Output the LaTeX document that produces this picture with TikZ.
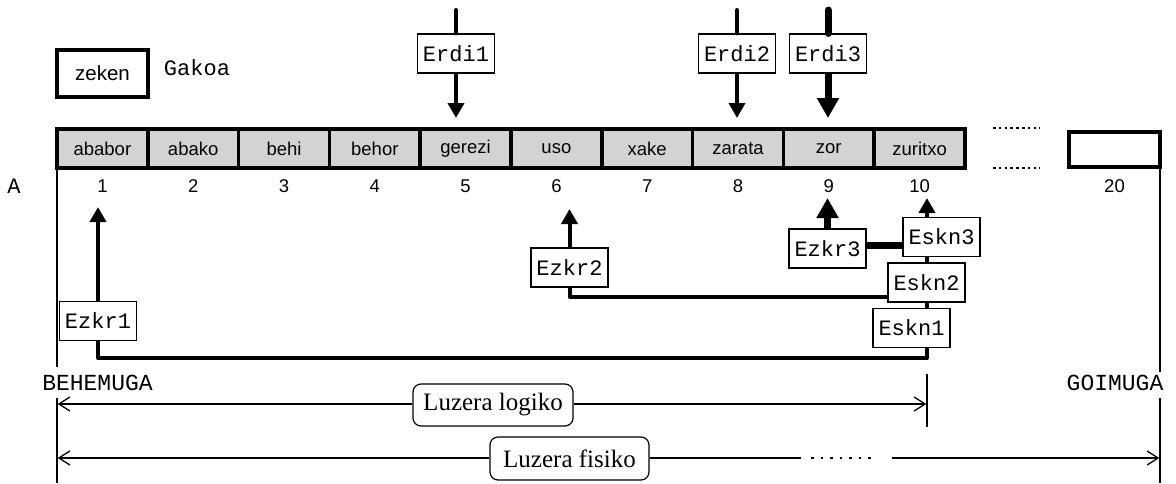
\documentclass[tikz,border=0pt]{standalone}
\usepackage{fontspec}
\setmainfont{Liberation Serif}
\setsansfont{Liberation Sans}
\setmonofont{Liberation Mono}
\usetikzlibrary{arrows.meta}
\definecolor{cellgray}{RGB}{211,211,211}
\tikzset{
  cell/.style={draw, line width=3.5pt, fill=cellgray, minimum width=90.8pt, minimum height=39pt,
    inner sep=0pt, font=\sffamily\fontsize{18.5}{18.5}\selectfont},
  idx/.style={font=\sffamily\fontsize{18.5}{18.5}\selectfont, inner sep=0pt},
  ptr/.style={draw, line width=1.2pt, fill=white, minimum width=77pt, minimum height=39pt,
    inner sep=0pt, font=\ttfamily\fontsize{22}{22}\selectfont},
  mono/.style={font=\ttfamily\fontsize{23}{23}\selectfont, inner sep=0pt},
  shaft/.style={line width=4pt, line cap=round},
  fatshaft/.style={line width=7pt, line cap=round},
  tipA/.style={-{Triangle[length=15pt,width=16pt]}},
  tipB/.style={-{Triangle[length=20pt,width=21pt]}},
  link/.style={line width=4pt},
  lenbox/.style={draw, line width=1.2pt, rounded corners=8pt, fill=white, inner sep=0pt,
    font=\fontsize{25}{25}\selectfont},
  dim/.style={line width=1.3pt},
  dimtip/.style={-{Straight Barb[length=11pt,width=14pt,line width=1.3pt]}},
}
\begin{document}
\begin{tikzpicture}[x=1pt,y=-1pt]
\useasboundingbox (0,0) rectangle (1176,483);

% key box and its caption
\node[draw, line width=4pt, minimum width=91pt, minimum height=47pt, inner sep=0pt,
  font=\sffamily\fontsize{20.5}{20.5}\selectfont] (key) at (102.5,73.5) {zeken};
\node[mono, font=\ttfamily\fontsize{22}{22}\selectfont] (gakoa) at (197,68) {Gakoa};

% the array cells
\foreach \w [count=\i] in {ababor,abako,behi,behor,gerezi,uso,xake,zarata,zor,zuritxo} {
  \node[cell] (c\i) at ({57+90.8*(\i-0.5)},148.5) {\w};
  \node[idx] (n\i) at ({57+90.8*(\i-0.5)},186) {\i};
}
\node[draw, line width=3.5pt, fill=white, minimum width=91pt, minimum height=35pt, inner sep=0pt]
  (c20) at (1114.5,149.5) {};
\node[idx] (n20) at (1114.5,186) {20};
\node[mono, font=\ttfamily\fontsize{22}{22}\selectfont] (arr) at (14,186) {A};

% gaps in the array
\draw[line width=2.5pt, dash pattern=on 2.5pt off 3.3pt] (993,128) -- (1040,128);
\draw[line width=2.5pt, dash pattern=on 2.5pt off 3.3pt] (993,168) -- (1040,168);

% middle pointers
\node[ptr] (e1) at (456,53.5) {Erdi1};
\node[ptr] (e2) at (737,53.5) {Erdi2};
\node[ptr] (e3) at (828,53.5) {Erdi3};
\coordinate (e1top) at (456,10);
\coordinate (e2top) at (737,10);
\coordinate (e3top) at (828,10);
\coordinate (e1tip) at (456,118);
\coordinate (e2tip) at (737,118);
\coordinate (e3tip) at (828,118);
\draw[shaft] (e1top) -- (e1.north);
\draw[shaft] (e2top) -- (e2.north);
\draw[fatshaft] (e3top) -- (e3.north);
\draw[shaft, line cap=butt, tipA] (e1.south) -- (e1tip);
\draw[shaft, line cap=butt, tipA] (e2.south) -- (e2tip);
\draw[fatshaft, line cap=butt, tipB] (e3.south) -- (e3tip);

% left and right pointers
\node[ptr] (z1) at (98,321) {Ezkr1};
\node[ptr] (z2) at (569.5,267.5) {Ezkr2};
\node[ptr] (z3) at (827.5,248.5) {Ezkr3};
\node[ptr] (k3) at (941.5,237) {Eskn3};
\node[ptr] (k2) at (926.5,282.5) {Eskn2};
\node[ptr] (k1) at (911.5,328) {Eskn1};
\coordinate (col) at (927,358);
\coordinate (z1tip) at (98,207);
\coordinate (z2tip) at (569.5,209);
\coordinate (z3tip) at (827.5,198);
\coordinate (k3tip) at (927,198);

\draw[link, tipA] (z1.north) -- (z1tip);
\draw[link, tipA] (z2.north) -- (z2tip);
\draw[fatshaft, line cap=butt, tipB] (z3.north) -- (z3tip);
\draw[link, tipA] (col |- k3.north) -- (k3tip);

\draw[link, line join=round] (z1.south) |- (col) -- (col |- k1.south);
\draw[link] (col |- k1.north) -- (col |- k2.south);
\draw[link] (col |- k2.north) -- (col |- k3.south);
\draw[link, line join=round] (z2.south) |- ([yshift=-14.5pt]k2.west);
\draw[line width=7pt] ([yshift=3pt]z3.east) -- ([yshift=3pt]z3.east -| k3.west);

% bounds
\node[mono] (lo) at (97.5,383) {BEHEMUGA};
\node[mono] (hi) at (1115,383) {GOIMUGA};
\draw[line width=1.3pt] (57,168) -- (57,367);
\draw[line width=1.3pt] (57,398) -- (57,483);
\draw[line width=1.3pt] (1160,168) -- (1160,372);
\draw[line width=1.3pt] (1160,398) -- (1160,483);
\draw[line width=1.3pt] (927,374) -- (927,427);

% lengths
\node[lenbox, minimum width=160pt, minimum height=42pt] (logl) at (493,405) {Luzera logiko};
\node[lenbox, minimum width=159pt, minimum height=43pt] (fisl) at (569.5,458.5) {Luzera fisiko};
\coordinate (logL) at (57.7,404);
\coordinate (logR) at (926.3,404);
\coordinate (fisL) at (57.7,458);
\coordinate (fisR) at (1159.3,458);
\coordinate (fisA) at (801,458);
\coordinate (fisB) at (892,458);
\draw[dim, dimtip] (logl.west |- logL) -- (logL);
\draw[dim, dimtip] (logl.east |- logR) -- (logR);
\draw[dim, dimtip] (fisl.west |- fisL) -- (fisL);
\draw[dim] (fisl.east |- fisA) -- (fisA);
\draw[dim, dimtip] (fisB) -- (fisR);
\draw[line width=2.2pt, dash pattern=on 2.5pt off 7pt] (811,458) -- (872,458);
\end{tikzpicture}
\end{document}
